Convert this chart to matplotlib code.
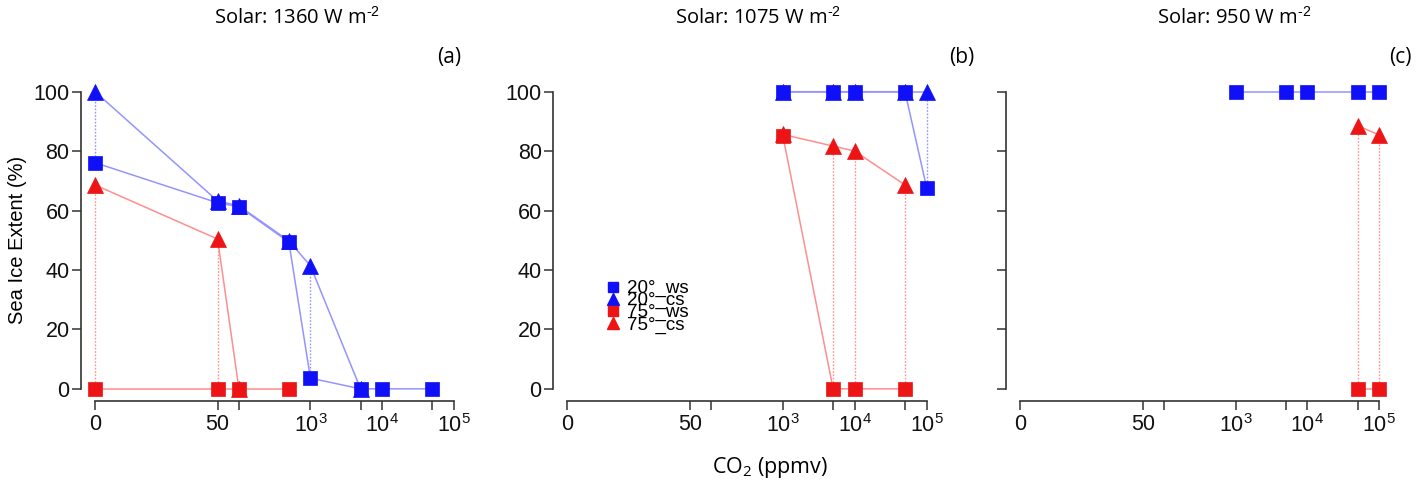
import numpy as np
import matplotlib
matplotlib.use("Agg")
import matplotlib.pyplot as plt
from matplotlib.lines import Line2D

# ---------------- data ----------------
xtick_vals = [0, 50, 100, 1000, 5000, 10000, 50000, 100000]
xtick_labels = ["0", "50", "", r"$\mathregular{10^3}$", "", r"$\mathregular{10^4}$", "", r"$\mathregular{10^5}$"]
ytick_vals = [0, 20, 40, 60, 80, 100]

titles = [r"Solar: 1360 W m$^{\text{-2}}$",
          r"Solar: 1075 W m$^{\text{-2}}$",
          r"Solar: 950 W m$^{\text{-2}}$"]
panel_tags = ["(a)", "(b)", "(c)"]
legend_labels = ["20°_ws", "20°_cs", "75°_ws", "75°_cs"]

# Panel (a) : 1360 W m-2
a_x20ws = [0, 50, 100, 500, 1000, 5000, 10000, 50000]
a_y20ws = [76.1, 62.6, 61.3, 49.4, 3.6, 0, 0, 0]
a_x20cs = [0, 50, 100, 500, 1000, 5000]
a_y20cs = [100, 63.2, 61.6, 49.8, 41.4, 0]
a_x75ws = [0, 50, 100, 500]
a_y75ws = [0, 0, 0, 0]
a_x75cs = [0, 50, 100]
a_y75cs = [68.6, 50.4, 0]

# Panel (b) : 1075 W m-2
b_x20ws = [1000, 5000, 10000, 50000, 100000]
b_y20ws = [100, 100, 100, 100, 67.7]
b_x20cs = [1000, 5000, 10000, 50000, 100000]
b_y20cs = [100, 100, 100, 100, 100]
b_x75ws = [1000, 5000, 10000, 50000]
b_y75ws = [85.1, 0, 0, 0]
b_x75cs = [1000, 5000, 10000, 50000]
b_y75cs = [85.6, 81.7, 80.0, 68.6]

# Panel (c) : 950 W m-2
c_x20ws = [1000, 5000, 10000, 50000, 100000]
c_y20ws = [100, 100, 100, 100, 100]
c_x20cs = []
c_y20cs = []
c_x75ws = [50000, 100000]
c_y75ws = [0, 0]
c_x75cs = [50000, 100000]
c_y75cs = [88.6, 85.4]

panels = [
    (a_x20ws, a_y20ws, a_x20cs, a_y20cs, a_x75ws, a_y75ws, a_x75cs, a_y75cs),
    (b_x20ws, b_y20ws, b_x20cs, b_y20cs, b_x75ws, b_y75ws, b_x75cs, b_y75cs),
    (c_x20ws, c_y20ws, c_x20cs, c_y20cs, c_x75ws, c_y75ws, c_x75cs, c_y75cs),
]

# ---------------- style ----------------
BLUE = "#1010f8"
RED = "#ec1414"
LBLUE = "#9494ff"
LRED = "#ff8e8e"
AXC = "#333333"
TICKFONT = ["Liberation Sans", "DejaVu Sans"]
TITLEFONT = ["Open Sans", "DejaVu Sans"]

plt.rcParams["font.family"] = TICKFONT
plt.rcParams["mathtext.fontset"] = "custom"
plt.rcParams["mathtext.rm"] = "Liberation Sans"


def fwd(x):
    x = np.asarray(x, dtype=float)
    return np.log10(np.clip(x, -0.999, None) + 1.0)


def inv(y):
    return 10.0 ** np.asarray(y, dtype=float) - 1.0


fig = plt.figure(figsize=(14.26, 4.96), dpi=100)
positions = [
    [0.0566, 0.1921, 0.2718, 0.647],
    [0.3877, 0.1921, 0.2722, 0.647],
    [0.7054, 0.1921, 0.2719, 0.647],
]


def dotted_links(ax, xw, yw, xc, yc, color):
    dw = dict(zip(xw, yw))
    for x, y in zip(xc, yc):
        if x in dw and abs(dw[x] - y) > 0.5:
            ax.vlines(x, min(dw[x], y), max(dw[x], y), colors=color,
                      linestyles=(0, (1.2, 1.2)), linewidth=1.0, zorder=1)


axes = []
for i, (pos, data) in enumerate(zip(positions, panels)):
    ax = fig.add_axes(pos)
    axes.append(ax)
    ax.set_xscale("function", functions=(fwd, inv))
    x20w, y20w, x20c, y20c, x75w, y75w, x75c, y75c = data

    # connecting lines
    for xs, ys, col in [(x20w, y20w, LBLUE), (x20c, y20c, LBLUE),
                        (x75w, y75w, LRED), (x75c, y75c, LRED)]:
        if len(xs):
            ax.plot(xs, ys, color=col, lw=1.1, zorder=1)
    dotted_links(ax, x20w, y20w, x20c, y20c, LBLUE)
    dotted_links(ax, x75w, y75w, x75c, y75c, LRED)

    # markers
    if len(x20c):
        ax.plot(x20c, y20c, ls="none", marker="^", ms=11.5, color=BLUE, mec=BLUE, mew=0.5, zorder=3)
    if len(x75c):
        ax.plot(x75c, y75c, ls="none", marker="^", ms=11.5, color=RED, mec=RED, mew=0.5, zorder=3)
    ax.plot(x20w, y20w, ls="none", marker="s", ms=10, color=BLUE, mec=BLUE, mew=0.5, zorder=4)
    ax.plot(x75w, y75w, ls="none", marker="s", ms=10, color=RED, mec=RED, mew=0.5, zorder=4)

    ax.set_xlim(inv(-0.2), inv(5.2))
    ax.set_ylim(-4, 104)
    ax.set_xticks(xtick_vals)
    ax.set_xticklabels(xtick_labels)
    ax.xaxis.set_minor_locator(matplotlib.ticker.NullLocator())
    ax.set_yticks(ytick_vals)
    if i == 0:
        ax.set_yticklabels([str(v) for v in ytick_vals])
        ax.set_ylabel("Sea Ice Extent (%)", fontsize=14.5, labelpad=5)
    elif i == 1:
        ax.set_yticklabels([str(v) for v in ytick_vals])
    else:
        ax.set_yticklabels([])

    for s in ["top", "right"]:
        ax.spines[s].set_visible(False)
    ax.spines["left"].set_bounds(0, 100)
    ax.spines["bottom"].set_bounds(0, 100000)
    for s in ["left", "bottom"]:
        ax.spines[s].set_color(AXC)
        ax.spines[s].set_linewidth(1.2)
    ax.tick_params(axis="both", direction="out", length=6.5, width=1.1, color=AXC,
                   labelsize=15.5, labelcolor="#111111")
    ax.tick_params(axis="y", pad=1.5)
    ax.tick_params(axis="x", pad=3)

# legend in panel (b)
handles = [
    Line2D([], [], ls="none", marker="s", ms=6.5, color=BLUE),
    Line2D([], [], ls="none", marker="^", ms=8, color=BLUE),
    Line2D([], [], ls="none", marker="s", ms=6.5, color=RED),
    Line2D([], [], ls="none", marker="^", ms=8, color=RED),
]
axes[1].legend(handles, legend_labels, loc="upper left", bbox_to_anchor=(0.135, 0.376),
               frameon=False, fontsize=13.5, labelspacing=-0.28, handlelength=0.8,
               handletextpad=0.35, borderpad=0, borderaxespad=0)

# titles, tags, x label
title_x = [297 / 1426, 758 / 1426, 1234 / 1426]
for tx, t in zip(title_x, titles):
    fig.text(tx, 1 - 18 / 496, t, ha="center", va="center", fontsize=14.5, family=TITLEFONT)
tag_x = [449 / 1426, 962 / 1426, 1400 / 1426]
for tx, t in zip(tag_x, panel_tags):
    fig.text(tx, 1 - 57 / 496, t, ha="center", va="center", fontsize=15, family=TITLEFONT)
fig.text(770 / 1426, 1 - 468 / 496, r"CO$\mathregular{_2}$ (ppmv)", ha="center", va="center",
         fontsize=15.5, family=TITLEFONT)

fig.savefig("out.png", dpi=100)
